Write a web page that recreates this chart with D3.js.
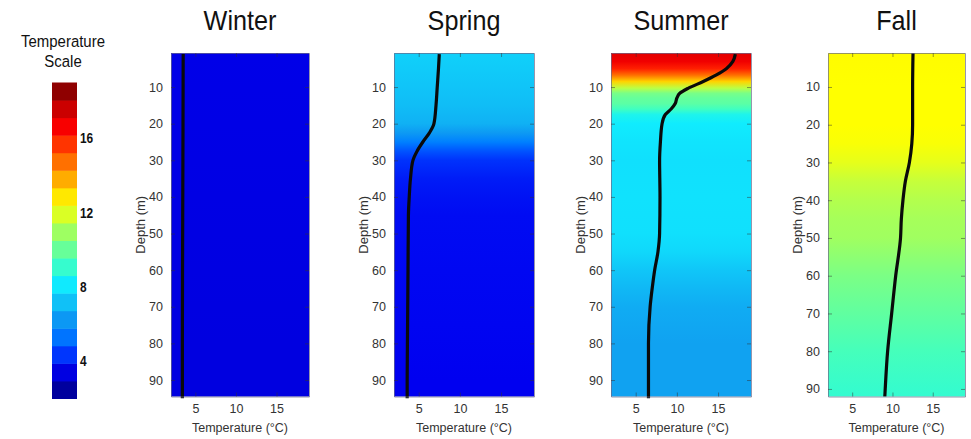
<!DOCTYPE html>
<html>
<head>
<meta charset="utf-8">
<script src="https://cdn.jsdelivr.net/npm/d3@7"></script>
<style>
  body { margin: 0; background: #fff; }
  svg { display: block; font-family: "Liberation Sans", Arial, sans-serif; }
</style>
</head>
<body>
<svg id="chart" width="971" height="439"></svg>
<script>
// data
const seasons = ["Winter", "Spring", "Summer", "Fall"];

const winterDepth = [1, 20, 40, 60, 80, 95];
const winterTemp  = [3.5, 3.48, 3.45, 3.42, 3.4, 3.4];

const springDepth = [1, 5, 10, 15, 20, 22.5, 25, 27.5, 30, 35, 40, 45, 60, 75, 90, 95];
const springTemp  = [7.5, 7.4, 7.25, 7.1, 6.85, 6.3, 5.5, 4.8, 4.3, 4.0, 3.85, 3.75, 3.7, 3.65, 3.6, 3.6];

const summerDepth = [1, 3, 5, 6.7, 8.5, 10.3, 11.7, 13, 14.5, 16, 17.5, 20, 25, 30, 40, 50, 55, 60, 65, 70, 80, 90, 95];
const summerTemp  = [17.1, 16.8, 16.0, 14.8, 13.2, 11.4, 10.35, 10.0, 9.8, 9.3, 8.6, 8.2, 8.0, 7.9, 7.95, 7.9, 7.7, 7.3, 7.0, 6.75, 6.55, 6.55, 6.55];

const fallDepth = [1, 10, 20, 25, 30, 35, 40, 45, 50, 60, 70, 80, 90, 92];
const fallTemp  = [12.55, 12.5, 12.5, 12.4, 12.1, 11.6, 11.3, 11.1, 11.0, 10.4, 9.9, 9.4, 9.1, 9.05];

const tempDomain = [2, 19];
const xTicks = [5, 10, 15];
const yTicks = [10, 20, 30, 40, 50, 60, 70, 80, 90];
const scaleTicks = [4, 8, 12, 16];
const depthDomains = [[0.7, 94.5], [0.7, 94.5], [0.7, 94.5], [1, 92]];

// jet-like colour map
const jetTemps  = [2, 3, 3.6, 4.5, 5.5, 6.5, 7.5, 8.3, 9.3, 10.5, 11.5, 12.5, 13.5, 14.5, 15.5, 16.5, 17.5, 18.5, 19];
const jetColors = ["#000080", "#0000c0", "#0000f0", "#0040ff", "#0080ff", "#10a0f0", "#10d0fa", "#10f0ff", "#40ffc0",
                   "#80ff80", "#c0ff40", "#ffff00", "#ffc000", "#ff8000", "#ff4000", "#ff0000", "#d00000", "#900000", "#780000"];
const nBands = 18;

const profiles = [
  {depth: winterDepth, temp: winterTemp},
  {depth: springDepth, temp: springTemp},
  {depth: summerDepth, temp: summerTemp},
  {depth: fallDepth, temp: fallTemp}
];

const svg = d3.select("#chart");
const color = d3.scaleLinear().domain(jetTemps).range(jetColors).clamp(true);

const panelLeft = [171, 394, 611, 828];
const panelWidth = [138, 140, 140, 137];
const plotTop = 53, plotBottom = 396.5;

function squeezed(x, y, str, size, sx, anchor, weight) {
  svg.append("text")
    .attr("transform", `translate(${x},${y}) scale(${sx},1)`)
    .attr("text-anchor", anchor)
    .attr("font-size", size)
    .attr("font-weight", weight || "normal")
    .attr("fill", "#111")
    .text(str);
}

// colour bar
const cbX = 52, cbW = 25, cbTop = 82.5, cbBot = 398.5;
const cbY = d3.scaleLinear().domain(tempDomain).range([cbBot, cbTop]);
const step = (tempDomain[1] - tempDomain[0]) / nBands;
for (let i = 0; i < nBands; i++) {
  const t0 = tempDomain[0] + i * step;
  svg.append("rect")
    .attr("x", cbX)
    .attr("y", cbY(t0 + step))
    .attr("width", cbW)
    .attr("height", cbY(t0) - cbY(t0 + step) + 0.5)
    .attr("fill", color(t0 + step / 2));
}
scaleTicks.forEach(t => squeezed(80, cbY(t) + 5, t, 14, 0.85, "start", "bold"));
squeezed(63, 47, "Temperature", 17, 0.88, "middle");
squeezed(63, 67, "Scale", 17, 0.88, "middle");

// panels
profiles.forEach((p, i) => {
  const x = d3.scaleLinear().domain(tempDomain).range([panelLeft[i], panelLeft[i] + panelWidth[i]]);
  const y = d3.scaleLinear().domain(depthDomains[i]).range([plotTop, plotBottom]);

  // background shaded by temperature at depth
  const gid = "grad" + i;
  const grad = svg.append("defs").append("linearGradient")
    .attr("id", gid)
    .attr("gradientUnits", "userSpaceOnUse")
    .attr("x1", 0).attr("x2", 0)
    .attr("y1", plotTop).attr("y2", plotBottom);
  p.depth.forEach((d, k) => {
    grad.append("stop")
      .attr("offset", Math.max(0, Math.min(1, (y(d) - plotTop) / (plotBottom - plotTop))))
      .attr("stop-color", color(p.temp[k]));
  });
  svg.append("rect")
    .attr("x", x.range()[0]).attr("y", plotTop)
    .attr("width", panelWidth[i]).attr("height", plotBottom - plotTop)
    .attr("fill", `url(#${gid})`);

  // profile line
  svg.append("path")
    .datum(p.depth.map((d, k) => [p.temp[k], d]))
    .attr("fill", "none")
    .attr("stroke", "#0a0a0a")
    .attr("stroke-width", 3.2)
    .attr("stroke-linejoin", "round")
    .attr("d", d3.line().x(d => x(d[0])).y(d => y(d[1])).curve(d3.curveMonotoneY));

  // axes, ticks pointing inward
  const axes = [
    [d3.axisLeft(y).tickValues(yTicks), `translate(${x.range()[0]},0)`],
    [d3.axisRight(y).tickValues(yTicks).tickFormat(""), `translate(${x.range()[1]},0)`],
    [d3.axisBottom(x).tickValues(xTicks), `translate(0,${plotBottom})`],
    [d3.axisTop(x).tickValues(xTicks).tickFormat(""), `translate(0,${plotTop})`]
  ];
  axes.forEach(([ax, tr]) => {
    const g = svg.append("g")
      .attr("transform", tr)
      .call(ax.tickSizeInner(-4).tickSizeOuter(0).tickPadding(8));
    g.select(".domain").attr("stroke", "#6a6a8a").attr("stroke-opacity", 0.7);
    g.selectAll(".tick line").attr("stroke", "#333").attr("stroke-opacity", 0.5);
    g.selectAll(".tick text").attr("font-size", 12.5).attr("fill", "#333")
      .attr("font-family", "Liberation Sans, Arial, sans-serif");
  });

  const cx = x.range()[0] + panelWidth[i] / 2;
  squeezed(cx, 30, seasons[i], 28, 0.9, "middle");

  svg.append("text")
    .attr("x", cx).attr("y", 432)
    .attr("text-anchor", "middle")
    .attr("font-size", 12.5)
    .attr("fill", "#333")
    .text("Temperature (°C)");

  svg.append("text")
    .attr("transform", `translate(${x.range()[0] - 26},${(plotTop + plotBottom) / 2}) rotate(-90)`)
    .attr("text-anchor", "middle")
    .attr("font-size", 13)
    .attr("fill", "#333")
    .text("Depth (m)");
});
</script>
</body>
</html>
